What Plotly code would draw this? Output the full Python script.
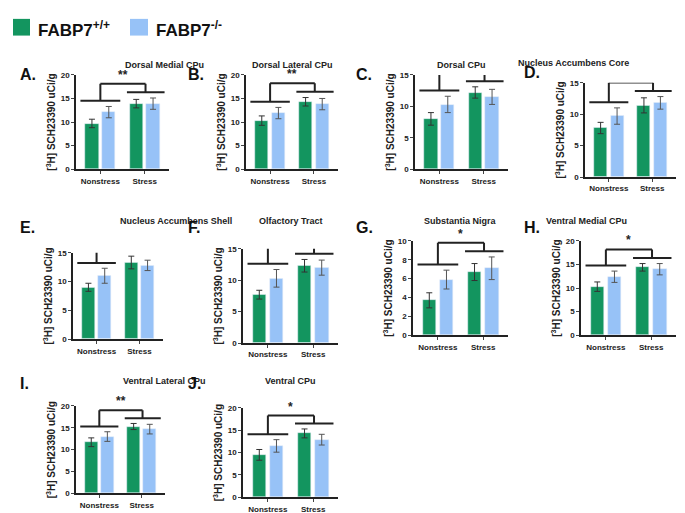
import plotly.graph_objects as go

groups = ["Nonstress", "Stress"]
titles = ["Dorsal Medial CPu", "Dorsal Lateral CPu", "Dorsal CPu", "Nucleus Accumbens Core",
          "Nucleus Accumbens Shell", "Olfactory Tract", "Substantia Nigra", "Ventral Medial CPu",
          "Ventral Lateral CPu", "Ventral CPu"]
letters = ["A.", "B.", "C.", "D.", "E.", "F.", "G.", "H.", "I.", "J."]
wt_mean = [[9.7, 13.9], [10.3, 14.3], [8.0, 12.2], [7.8, 11.4], [9.0, 13.3],
           [7.7, 12.3], [3.7, 6.7], [10.3, 14.4], [11.7, 15.3], [9.5, 14.3]]
wt_err = [[0.9, 0.9], [1.0, 0.9], [1.0, 0.9], [0.9, 1.2], [0.7, 1.1],
          [0.7, 1.0], [0.8, 0.9], [1.0, 0.8], [1.0, 0.7], [1.2, 1.0]]
ko_mean = [[12.1, 13.9], [11.9, 13.8], [10.3, 11.5], [9.7, 11.8], [11.0, 12.8],
           [10.3, 12.0], [5.9, 7.1], [12.4, 14.0], [13.0, 14.7], [11.5, 12.9]]
ko_err = [[1.2, 1.2], [1.2, 1.2], [1.3, 1.2], [1.3, 1.0], [1.3, 0.9],
          [1.4, 1.2], [1.0, 1.2], [1.2, 1.2], [1.1, 1.1], [1.4, 1.2]]
y_max = [20, 20, 15, 15, 15, 15, 10, 20, 20, 20]
y_dtick = [5, 5, 5, 5, 5, 5, 2, 5, 5, 5]
stars = ["**", "**", "*", "*", "**", "**", "*", "*", "**", "*"]

rects = [(68, 161, 64, 160), (238, 330, 64, 160), (407, 500, 64, 160), (577, 668, 72, 168),
         (65, 155, 245, 333), (235, 330, 241, 337), (405, 500, 233, 329), (573, 668, 233, 329),
         (68, 157, 401, 490), (235, 330, 403, 494)]
title_y = [47, 47, 47, 45, 213, 213, 213, 213, 383, 383]
W, H = 685, 513
GREEN, BLUE = "#13955f", "#97c2f7"
FONT = "Liberation Sans, Arial, sans-serif"

fig = go.Figure()
shapes, annos = [], []
for i in range(10):
    n = "" if i == 0 else str(i + 1)
    xa, ya = "x" + n, "y" + n
    x0, x1, yt, yb = rects[i]
    fig.add_trace(go.Bar(x=[-0.19, 0.81], y=wt_mean[i], width=0.3, marker_color=GREEN,
                         error_y=dict(type="data", array=wt_err[i], color="#333", thickness=1, width=3),
                         xaxis=xa, yaxis=ya, showlegend=False))
    fig.add_trace(go.Bar(x=[0.19, 1.19], y=ko_mean[i], width=0.3, marker_color=BLUE,
                         error_y=dict(type="data", array=ko_err[i], color="#555", thickness=1, width=3),
                         xaxis=xa, yaxis=ya, showlegend=False))
    tf = dict(size=8, family=FONT, color="#222", weight="bold")
    fig.layout["xaxis" + n] = dict(domain=[x0 / W, x1 / W], range=[-0.55, 1.55], tickvals=[0, 1],
                                   ticktext=["<b>%s</b>" % g for g in groups], anchor=ya, showline=True,
                                   linecolor="#222", linewidth=1.5, ticks="outside", ticklen=3,
                                   tickfont=tf, showgrid=False, zeroline=False)
    fig.layout["yaxis" + n] = dict(domain=[1 - yb / H, 1 - yt / H], range=[0, y_max[i]],
                                   dtick=y_dtick[i], anchor=xa, showline=True, linecolor="#222",
                                   linewidth=1.5, ticks="outside", ticklen=3, showgrid=False,
                                   zeroline=False, tickfont=tf,
                                   title=dict(text="<b>[<sup>3</sup>H] SCH23390 uCi/g</b>", standoff=3,
                                              font=dict(size=10, family=FONT, color="#222")))
    m = y_max[i]
    l1 = max(wt_mean[i][0] + wt_err[i][0], ko_mean[i][0] + ko_err[i][0]) + 0.06 * m
    l2 = max(wt_mean[i][1] + wt_err[i][1], ko_mean[i][1] + ko_err[i][1]) + 0.06 * m
    top = max(l1, l2) + 0.09 * m
    line = dict(color="#222", width=2)
    for (xs, xe, yy) in [(-0.45, 0.45, l1), (0.6, 1.45, l2)]:
        shapes.append(dict(type="line", xref=xa, yref=ya, x0=xs, x1=xe, y0=yy, y1=yy, line=line))
    shapes.append(dict(type="line", xref=xa, yref=ya, x0=0, x1=0, y0=l1, y1=top, line=line))
    shapes.append(dict(type="line", xref=xa, yref=ya, x0=1.02, x1=1.02, y0=l2, y1=top, line=line))
    shapes.append(dict(type="line", xref=xa, yref=ya, x0=0, x1=1.02, y0=top, y1=top, line=line))
    annos.append(dict(x=0.5, y=top, xref=xa, yref=ya, text="<b>" + stars[i] + "</b>", showarrow=False,
                      yanchor="bottom", font=dict(size=12, color="#222", family=FONT)))
    annos.append(dict(x=(x0 + x1) / 2 / W, y=1 - title_y[i] / H, xref="paper", yref="paper",
                      text="<b>" + titles[i] + "</b>", showarrow=False,
                      font=dict(size=9, color="#222", family=FONT)))
    annos.append(dict(x=(10 + 168 * (i % 4)) / W, y=1 - title_y[i] / H - 6 / H, xref="paper", yref="paper",
                      xanchor="left", text="<b>" + letters[i] + "</b>", showarrow=False,
                      font=dict(size=16, color="#111", family=FONT)))

shapes.append(dict(type="rect", xref="paper", yref="paper", x0=5 / W, x1=22 / W, y0=1 - 24 / H, y1=1 - 7 / H,
                   fillcolor=GREEN, line=dict(width=0)))
shapes.append(dict(type="rect", xref="paper", yref="paper", x0=122 / W, x1=140 / W, y0=1 - 24 / H, y1=1 - 7 / H,
                   fillcolor=BLUE, line=dict(width=0)))
annos.append(dict(x=28 / W, y=1 - 17 / H, xref="paper", yref="paper", xanchor="left", yanchor="middle",
                  showarrow=False, text="<b>FABP7<sup>+/+</sup></b>",
                  font=dict(size=17, color="#111", family=FONT)))
annos.append(dict(x=146 / W, y=1 - 17 / H, xref="paper", yref="paper", xanchor="left", yanchor="middle",
                  showarrow=False, text="<b>FABP7<sup>-/-</sup></b>",
                  font=dict(size=17, color="#111", family=FONT)))

fig.update_layout(width=W, height=H, margin=dict(l=0, r=0, t=0, b=0), plot_bgcolor="white",
                  paper_bgcolor="white", shapes=shapes, annotations=annos, bargap=0,
                  font=dict(family=FONT, color="#222"))
fig.write_html("out.html")
